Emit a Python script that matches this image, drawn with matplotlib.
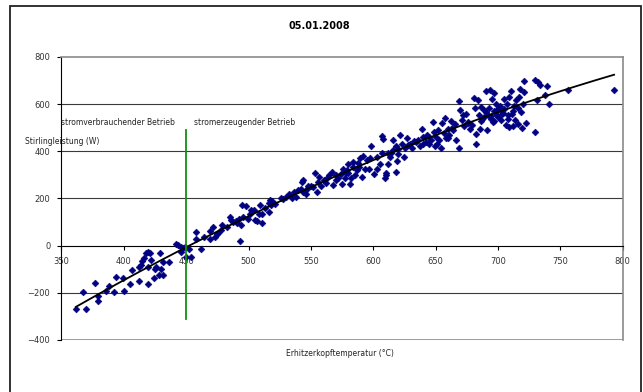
import matplotlib
matplotlib.use('Agg')
import matplotlib.pyplot as plt
from matplotlib.patches import Rectangle
import numpy as np

# Heater head temperature (°C) and Stirling power output (W)
temp = [361.5, 367.4, 369.7, 377, 379.6, 379.6, 385.5, 388, 392, 394, 399, 400, 404.6, 406.6,
        411.8, 411.8, 413.5, 414.8, 415.8, 417.4, 419, 420.7, 421.4, 419.7, 419.7, 424, 424.7,
        426, 428, 428.6, 430, 431, 431.6, 436, 441.8, 443.8, 445.8, 447.4, 446, 448.7, 449.7,
        454, 452.6,
        457.6, 457.6, 461.8, 464.5, 469, 469, 471.7, 473.4, 474.3, 475.7, 477.6, 479, 483,
        485.5, 487.5, 489.8, 490.8, 492, 493, 494, 494.7, 495.4, 498, 499.7, 501.3, 504, 505,
        507, 508.5, 509.5, 511, 511, 512.8, 516, 516.8, 517.8, 521, 516, 527.6, 530, 532.6,
        535, 536.8, 538, 540, 541.8, 542.8, 544, 543.4, 545.7, 546.7,
        548, 550, 553, 555, 556, 556.6, 558, 560.5, 563, 564.5, 567, 567.8, 569.7, 572, 573.7,
        575, 576, 577, 578.6, 579.6, 580, 580.9, 582, 583.6, 584, 585.5, 586.8, 588.5, 589.5,
        590.8, 592, 593.4, 595, 596.7, 598.4, 600.7, 602.6, 603.3, 605, 606.6, 607, 608, 609,
        609.8, 610.5, 611.5, 613, 613.8, 615.5, 615.8, 618, 618.4, 619, 619.7, 621, 623, 624.7,
        625.7, 627, 629, 631, 634, 636, 637.8, 638.8, 640, 642, 642.8, 644.4, 646, 647.7,
        648.7, 649.3, 650,
        651, 652, 653, 654, 655, 656.6, 657.6, 658.6, 660, 660.9, 662.5, 664, 665.8, 666.4,
        668.4, 669, 669.7, 670.7, 671.7, 673, 674, 675.7, 677.3, 679, 680.6, 681.6, 682, 682,
        684, 685, 685.5, 686, 687, 688.8, 690.5, 691.4, 692, 692.8, 693.7, 694.7, 695.4, 696,
        697, 698, 698.7, 699.3, 700.3, 701.3, 702, 703.6, 704.6, 706, 707, 708, 708.5, 709,
        710, 711, 711.8, 712.5, 713.5, 714.5, 715.8, 716.8, 717.8, 718.4, 719, 720, 721,
        722.4, 721, 730, 730, 731.6, 732.2, 734, 738, 739.6, 740.6, 756, 793,
        690, 694, 697, 700, 703, 705, 708, 712, 716, 702, 697, 689, 686, 676, 663, 660,
        645, 640, 633, 628, 620, 612, 597, 588, 578, 570, 562, 552, 526, 519, 502, 486]
power = [-267, -195, -270, -160, -214, -233, -191, -171, -195, -132, -136, -192, -164, -104,
         -149, -89, -82, -64, -54, -30, -26, -30, -61, -163, -89, -137, -101, -89, -126, -30,
         -101, -68, -126, -68, 6, 2, -5, -12, -26, -5, -50, -50, -16,
         56, 28, -16, 35, 29, 62, 80, 38, 49, 55, 66, 87, 80, 122, 100, 103, 94, 111, 19, 86,
         173, 122, 167, 111, 136, 153, 108, 105, 136, 172, 97, 136, 158, 182, 193, 172, 176,
         143, 196, 207, 218, 204, 228, 207, 238, 242, 271, 278, 228, 221, 242,
         255, 255, 306, 228, 271, 292, 252, 280, 287, 299, 312, 259, 278, 285, 304, 261, 327,
         285, 320, 348, 306, 261, 285, 334, 355, 299, 320, 334, 371, 292, 382, 327, 362, 327,
         421, 303, 327, 376, 348, 391, 464, 454, 285, 299, 306, 348, 376, 393, 407, 447, 421,
         313, 358, 388, 468, 433, 376, 412, 457, 433, 412, 440, 450, 421, 496, 461, 440, 468,
         430, 447, 525, 482, 421, 461,
         433, 489, 450, 412, 520, 478, 543, 458, 496, 468, 529, 489, 515, 447, 612, 416, 574,
         532, 553, 506, 560, 525, 496, 510, 628, 585, 472, 433, 617, 553, 496, 588, 539, 574,
         656, 489, 553, 585, 659, 535, 624, 525, 648, 571, 600, 553, 581, 591, 532, 563, 624,
         510, 602, 539, 504, 631, 656, 560, 506, 591, 532, 617, 515, 631, 666, 567, 501, 602,
         652, 518, 698, 482, 701, 617, 694, 680, 638, 676, 602, 659, 662,
         565, 548, 572, 545, 560, 578, 556, 570, 585, 575, 530, 545, 528, 518, 500, 455,
         460, 432, 445, 428, 410, 395, 370, 350, 310, 300, 265, 248, 200, 188, 150, 110]

y_ticks = [-400, -200, 0, 200, 400, 600, 800]
x_ticks = [350, 400, 450, 500, 550, 600, 650, 700, 750, 800]

fig = plt.figure(figsize=(6.43, 3.92), dpi=100)
ax = fig.add_axes([0.0956, 0.1327, 0.873, 0.7219])

ax.set_xlim(350, 800)
ax.set_ylim(-400, 800)

# horizontal gridlines
for yv in y_ticks[1:-1]:
    if yv != 0:
        ax.axhline(yv, color='#3a3a3a', lw=0.8, zorder=1)
ax.axhline(-400, color='#8a8a8a', lw=1.2, zorder=1)

ax.scatter(temp, power, marker='D', s=12, color='#000080', edgecolors='#000080',
           linewidths=0.4, zorder=3)

# second order polynomial trend line
coef = np.polyfit(temp, power, 2)
xs = np.linspace(min(temp), max(temp), 200)
ax.plot(xs, np.polyval(coef, xs), color='black', lw=1.3, zorder=4)

# boundary between the two operating modes
ax.plot([450, 450], [-310, 490], color='#109010', lw=1.3, zorder=5)
ax.text(350, 523, 'stromverbrauchender Betrieb', fontsize=5.5, color='#222222',
        va='center', ha='left')
ax.text(456, 523, 'stromerzeugender Betrieb', fontsize=5.5, color='#222222',
        va='center', ha='left')

ax.spines['bottom'].set_position(('data', 0))
ax.spines['bottom'].set_color('black')
ax.spines['left'].set_color('black')
ax.spines['top'].set_color('#8a8a8a')
ax.spines['right'].set_color('#8a8a8a')
ax.spines['top'].set_linewidth(1.2)
ax.spines['right'].set_linewidth(1.2)

ax.set_xticks(x_ticks)
ax.set_yticks(y_ticks)
ax.tick_params(axis='x', direction='out', length=3, pad=5, labelsize=6, colors='black',
               labelcolor='#333333')
ax.tick_params(axis='y', direction='out', length=3, pad=5, labelsize=6, labelcolor='#333333')

fig.text(319 / 643, 1 - 26 / 392, '05.01.2008', fontsize=7, fontweight='bold',
         ha='center', va='center')
fig.text(25 / 643, 1 - 142 / 392, 'Stirlingleistung (W)', fontsize=5.5, color='#222222',
         ha='left', va='center')
fig.text(340 / 643, 1 - 353 / 392, 'Erhitzerkopftemperatur (°C)', fontsize=5.5,
         color='#222222', ha='center', va='center')

# outer frame
fig.patches.append(Rectangle((10 / 643, -0.02), 631 / 643, 1 - 6 / 392 + 0.02,
                             transform=fig.transFigure, fill=False, ec='#222222', lw=1.3))

fig.savefig('out.png', dpi=100)
